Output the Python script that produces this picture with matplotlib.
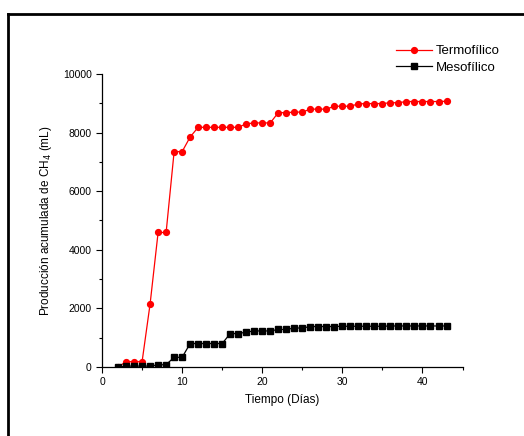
import matplotlib
matplotlib.use("Agg")
import matplotlib.pyplot as plt
from matplotlib.ticker import MultipleLocator
from matplotlib.lines import Line2D

plt.rcParams['font.family'] = ['Liberation Sans', 'DejaVu Sans']

# Days of sampling
dias = list(range(2, 44))

# Cumulative CH4 production (mL)
termofilico = [0, 180, 180, 180, 2150, 4590, 4590, 7350, 7350, 7850,
               8180, 8180, 8180, 8180, 8180, 8180, 8300, 8330, 8330, 8330,
               8680, 8680, 8700, 8700, 8800, 8800, 8800, 8900, 8900, 8900,
               8980, 8990, 8990, 8990, 9020, 9020, 9060, 9060, 9060, 9060,
               9060, 9070]
mesofilico = [0, 30, 30, 30, 30, 70, 80, 330, 330, 800,
              800, 800, 800, 800, 1140, 1140, 1190, 1230, 1230, 1230,
              1280, 1280, 1330, 1330, 1380, 1380, 1380, 1380, 1390, 1390,
              1390, 1390, 1390, 1390, 1400, 1400, 1400, 1400, 1400, 1400,
              1400, 1400]

fig = plt.figure(figsize=(5.24, 4.36), dpi=100)
ax = fig.add_axes([0.1947, 0.1583, 0.688, 0.672])

ax.plot(dias, termofilico, 'o-', color='red', lw=0.9, markersize=4.2, label='Termofílico')
ax.plot(dias, mesofilico, 's-', color='black', lw=0.9, markersize=3.8, label='Mesofílico')

ax.set_xlim(0, 45)
ax.set_ylim(0, 10000)
ax.xaxis.set_major_locator(MultipleLocator(10))
ax.xaxis.set_minor_locator(MultipleLocator(5))
ax.yaxis.set_major_locator(MultipleLocator(2000))
ax.yaxis.set_minor_locator(MultipleLocator(1000))
ax.tick_params(which='both', direction='out', labelsize=7.5, width=0.8)
ax.tick_params(which='major', length=4)
ax.tick_params(which='minor', length=2.5)
for side in ['top', 'right']:
    ax.spines[side].set_visible(False)
for side in ['left', 'bottom']:
    ax.spines[side].set_linewidth(0.9)

ax.set_xlabel('Tiempo (Días)', fontsize=8.5, labelpad=5)
ax.set_ylabel('Producción acumulada de CH$_4$ (mL)', fontsize=8.5, labelpad=6)

leg = ax.legend(loc='upper left', bbox_to_anchor=(396 / 524, 1 - 45 / 436),
                bbox_transform=fig.transFigure, frameon=False,
                fontsize=9.5, handlelength=2.7, labelspacing=0.32, handletextpad=0.3,
                borderpad=0, borderaxespad=0)

# outer frame
fig.add_artist(Line2D([7.5 / 524, 7.5 / 524], [0, 1 - 14.5 / 436], color='black', lw=2))
fig.add_artist(Line2D([7.5 / 524, 1], [1 - 14.5 / 436, 1 - 14.5 / 436], color='black', lw=2))

fig.savefig('out.png', dpi=100)
